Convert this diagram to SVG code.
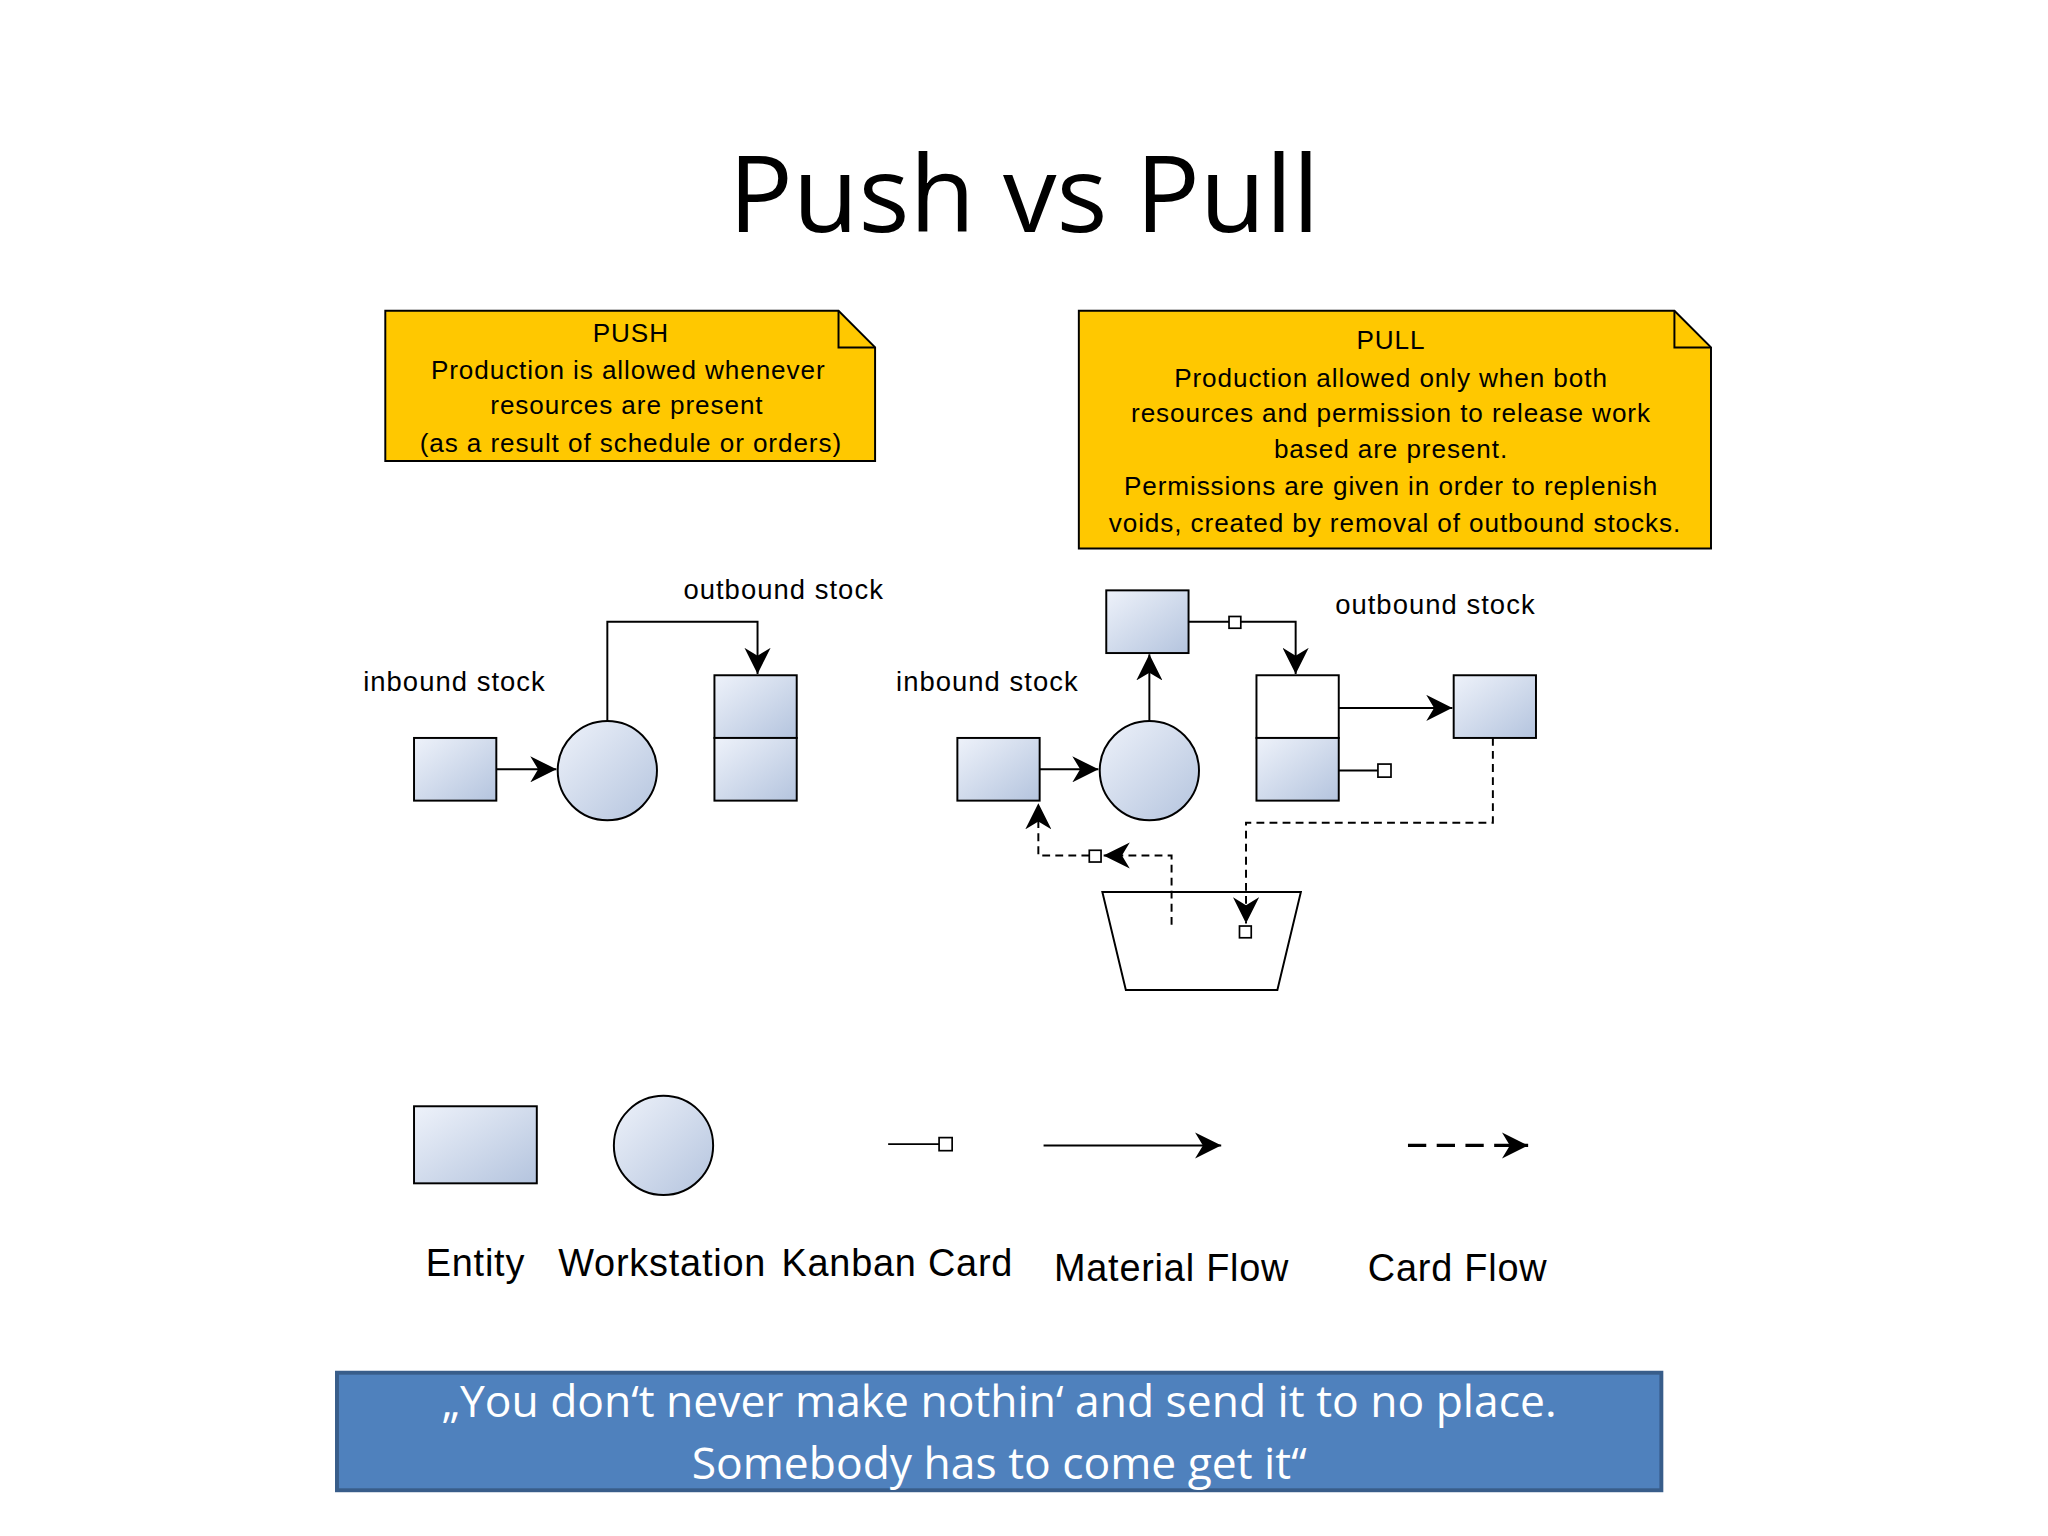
<svg xmlns="http://www.w3.org/2000/svg" width="2048" height="1536" viewBox="0 0 2048 1536">
<defs>
<linearGradient id="g" x1="0" y1="0" x2="1" y2="1"><stop offset="0" stop-color="#eef2fa"/><stop offset="1" stop-color="#b4c4de"/></linearGradient>
<marker id="a2" viewBox="0 0 10 10" refX="10" refY="5" markerWidth="20" markerHeight="20" markerUnits="userSpaceOnUse" orient="auto"><path d="M0,0 L10,5 L0,10 L3,5 Z" fill="#000"/></marker>
</defs>
<style>
.e{fill:url(#g);stroke:#000;stroke-width:1.5}
.w{fill:#fff;stroke:#000;stroke-width:1.5}
.l{fill:none;stroke:#000;stroke-width:1.5}
.d{fill:none;stroke:#000;stroke-width:1.5;stroke-dasharray:6,4}
.k{fill:#fff;stroke:#000;stroke-width:1.3}
.note{fill:#ffc800;stroke:#000;stroke-width:1.5}
.t{font-family:"Liberation Sans",Arial,sans-serif;font-size:20px;letter-spacing:0.7px;fill:#000;text-anchor:middle}
.lb{font-family:"Liberation Sans",Arial,sans-serif;font-size:21px;letter-spacing:0.8px;fill:#000;text-anchor:middle}
.lg{font-family:"Liberation Sans",Arial,sans-serif;font-size:29px;letter-spacing:0.6px;fill:#000;text-anchor:middle}
.q{font-family:"Open Sans","Liberation Sans",sans-serif;font-size:34px;fill:#fff;text-anchor:middle}
</style>
<rect width="2048" height="1536" fill="#fff"/>
<g transform="scale(1.3061)">
<text x="784" y="178" style="font-family:'Open Sans','Liberation Sans',sans-serif;font-size:82px;text-anchor:middle">Push vs Pull</text>
<g id="pushnote">
<path class="note" d="M295,238 H642 L670,266 V353 H295 Z"/><path class="l" d="M642,238 V266 H670"/>
<text class="t" x="483" y="262">PUSH</text>
<text class="t" x="481" y="290">Production is allowed whenever</text>
<text class="t" x="480" y="317">resources are present</text>
<text class="t" x="483" y="346">(as a result of schedule or orders)</text>
</g>
<g id="pullnote">
<path class="note" d="M826,238 H1282 L1310,266 V420 H826 Z"/><path class="l" d="M1282,238 V266 H1310"/>
<text class="t" x="1065" y="267">PULL</text>
<text class="t" x="1065" y="296">Production allowed only when both</text>
<text class="t" x="1065" y="323">resources and permission to release work</text>
<text class="t" x="1065" y="351">based are present.</text>
<text class="t" x="1065" y="379">Permissions are given in order to replenish</text>
<text class="t" x="1068" y="407">voids, created by removal of outbound stocks.</text>
</g>
<g id="labels">
<text class="lb" x="600" y="459">outbound stock</text>
<text class="lb" x="348" y="529">inbound stock</text>
<text class="lb" x="756" y="529">inbound stock</text>
<text class="lb" x="1099" y="470">outbound stock</text>
</g>
<g id="push-in"><rect class="e" x="317" y="565" width="63" height="48"/></g>
<g id="push-ws"><circle class="e" cx="465" cy="590" r="38"/></g>
<g id="push-out"><rect class="e" x="547" y="517" width="63" height="48"/><rect class="e" x="547" y="565" width="63" height="48"/></g>
<g id="pull-in"><rect class="e" x="733" y="565" width="63" height="48"/></g>
<g id="pull-ws"><circle class="e" cx="880" cy="590" r="38"/></g>
<g id="pull-card"><rect class="e" x="847" y="452" width="63" height="48"/></g>
<g id="pull-out"><rect class="w" x="962" y="517" width="63" height="48"/><rect class="e" x="962" y="565" width="63" height="48"/></g>
<g id="pull-cust"><rect class="e" x="1113" y="517" width="63" height="48"/></g>
<g id="board"><path class="w" d="M844,683 H996 L978,758 H862 Z"/></g>
<g id="connectors">
<path class="l" d="M380,589 H426" marker-end="url(#a2)"/>
<path class="l" d="M465,552 V476 H580 V516" marker-end="url(#a2)"/>
<path class="l" d="M796,589 H841" marker-end="url(#a2)"/>
<path class="l" d="M880,552 V501" marker-end="url(#a2)"/>
<path class="l" d="M910,476 H941 M950,476 H992 V516" marker-end="url(#a2)"/>
<rect class="k" x="941" y="472" width="9" height="9"/>
<path class="l" d="M1025,542 H1112" marker-end="url(#a2)"/>
<path class="l" d="M1025,590 H1055"/><rect class="k" x="1055" y="585" width="10" height="10"/>
<path class="d" d="M1143,565 V630 H954 V707" marker-end="url(#a2)"/>
<rect class="k" x="949" y="709" width="9" height="9"/>
<path class="d" d="M897,708 V655 H845" marker-end="url(#a2)"/>
<rect class="k" x="834" y="651" width="9" height="9"/>
<path class="d" d="M834,655 H795 V615" marker-end="url(#a2)"/>
</g>
<g id="legend">
<rect class="e" x="317" y="847" width="94" height="59"/>
<circle class="e" cx="508" cy="877" r="38"/>
<path class="l" d="M680,876 H719"/><rect class="k" x="719" y="871" width="10" height="10"/>
<path class="l" d="M799,877 H935" marker-end="url(#a2)"/>
<path class="l" d="M1078,877 H1170" style="stroke-dasharray:14,8;stroke-width:2.5" marker-end="url(#a2)"/>
<text class="lg" x="364" y="977">Entity</text>
<text class="lg" x="507" y="977">Workstation</text>
<text class="lg" x="687" y="977">Kanban Card</text>
<text class="lg" x="897" y="981">Material Flow</text>
<text class="lg" x="1116" y="981">Card Flow</text>
</g>
<g id="quote">
<rect x="258" y="1051" width="1014" height="90" fill="#4f81bd" stroke="#385d8a" stroke-width="3"/>
<text class="q" x="765" y="1085">„You don‘t never make nothin‘ and send it to no place.</text>
<text class="q" x="765" y="1132">Somebody has to come get it“</text>
</g>
</g>
</svg>
